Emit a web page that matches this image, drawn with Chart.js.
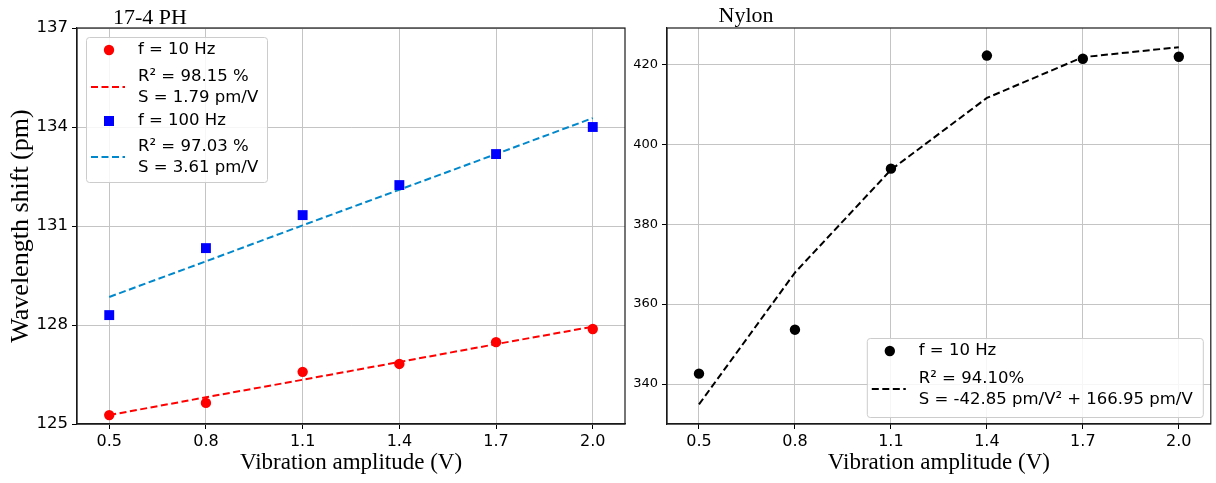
<!DOCTYPE html>
<html>
<head>
<meta charset="utf-8">
<script src="https://cdn.jsdelivr.net/npm/chart.js@4.4.1/dist/chart.umd.min.js"></script>
<style>
  body { margin: 0; background: #fff; }
  #left { position: absolute; left: 0; top: 0; width: 640px; height: 483px; }
  #right { position: absolute; left: 620px; top: 0; width: 596px; height: 483px; }
</style>
</head>
<body>
<div id="left"><canvas id="steel"></canvas></div>
<div id="right"><canvas id="nylon"></canvas></div>
<script>
// values
const amplitude = [0.5, 0.8, 1.1, 1.4, 1.7, 2.0];
const xTicks = [0.5, 0.8, 1.1, 1.4, 1.7, 2.0];

const steel10 = [125.27, 125.64, 126.58, 126.82, 127.48, 127.88];
const steel10Fit = [125.27, 125.81, 126.34, 126.88, 127.42, 127.95];
const steel100 = [128.30, 130.33, 131.33, 132.24, 133.18, 134.00];
const steel100Fit = [128.85, 129.93, 131.02, 132.10, 133.18, 134.27];
const steelTicks = [125, 128, 131, 134, 137];

const nylon10 = [342.6, 353.6, 393.9, 422.2, 421.4, 421.9];
const nylon10Fit = [334.9, 367.9, 393.6, 411.6, 421.8, 424.3];
const nylonTicks = [340, 360, 380, 400, 420];

const steelLabels = ['f = 10 Hz', ['R² = 98.15 %', 'S = 1.79 pm/V'], 'f = 100 Hz', ['R² = 97.03 %', 'S = 3.61 pm/V']];
const nylonLabels = ['f = 10 Hz', ['R² = 94.10%', 'S = -42.85 pm/V² + 166.95 pm/V']];

const RED = '#ff0000';
const BLUE = '#0000ff';
const FITBLUE = '#0088cc';
const GRID = '#c4c4c4';
const DASH = [7, 3.5];

const pts = ys => amplitude.map((x, i) => ({ x: x, y: ys[i] }));

function xAxis() {
  return {
    type: 'linear', min: 0.4, max: 2.1,
    afterBuildTicks: s => { s.ticks = xTicks.map(v => ({ value: v })); },
    afterFit: s => { s.height = 59; },
    ticks: { font: { family: 'DejaVu Sans', size: 16 }, color: '#000', padding: 3,
             maxRotation: 0, autoSkip: false, callback: v => Number(v).toFixed(1) },
    grid: { color: GRID, lineWidth: 1, tickColor: '#000', tickLength: 5 },
    border: { color: '#1a1a1a', width: 1.2 },
    title: { display: true, text: 'Vibration amplitude (V)', color: '#000',
             font: { family: 'Liberation Serif', size: 23 }, padding: { top: 0, bottom: 6 } }
  };
}

function drawLegend(ctx, area, spec, labels) {
  const bx = spec.right != null ? area.right - spec.right - spec.w : area.left + spec.left;
  const by = spec.bottom != null ? area.bottom - spec.bottom - spec.h : area.top + spec.top;
  ctx.save();
  ctx.beginPath();
  if (ctx.roundRect) ctx.roundRect(bx + 0.5, by + 0.5, spec.w, spec.h, 3);
  else ctx.rect(bx + 0.5, by + 0.5, spec.w, spec.h);
  ctx.fillStyle = 'rgba(255,255,255,0.85)';
  ctx.fill();
  ctx.strokeStyle = '#cccccc';
  ctx.lineWidth = 1;
  ctx.stroke();
  ctx.font = '16.5px "DejaVu Sans"';
  ctx.textBaseline = 'middle';
  spec.items.forEach((it, i) => {
    const cy = by + it.y;
    if (it.kind === 'circle') {
      ctx.beginPath();
      ctx.arc(bx + 23, cy, 5.2, 0, 2 * Math.PI);
      ctx.fillStyle = it.color;
      ctx.fill();
    } else if (it.kind === 'square') {
      ctx.fillStyle = it.color;
      ctx.fillRect(bx + 18, cy - 5, 10, 10);
    } else {
      ctx.beginPath();
      ctx.setLineDash(DASH);
      ctx.moveTo(bx + 5, cy);
      ctx.lineTo(bx + 39, cy);
      ctx.strokeStyle = it.color;
      ctx.lineWidth = 2;
      ctx.stroke();
      ctx.setLineDash([]);
    }
    ctx.fillStyle = '#000';
    const lines = [].concat(labels[i]);
    const n = lines.length;
    lines.forEach((t, k) => ctx.fillText(t, bx + 52, cy + (k - (n - 1) / 2) * 21));
  });
  ctx.restore();
}

// frame, title and legend drawn on top of the chart
function decor(title, tx, ty, legend, labels) {
  return {
    id: 'decor',
    afterDraw(chart) {
      const ctx = chart.ctx, a = chart.chartArea;
      ctx.save();
      ctx.strokeStyle = '#1a1a1a';
      ctx.lineWidth = 1.2;
      ctx.strokeRect(a.left, a.top, a.right - a.left, a.bottom - a.top);
      ctx.fillStyle = '#000';
      ctx.font = '22px "Liberation Serif"';
      ctx.textAlign = 'center';
      ctx.textBaseline = 'alphabetic';
      ctx.fillText(title, tx, ty);
      ctx.restore();
      drawLegend(ctx, a, legend, labels);
    }
  };
}

const common = {
  responsive: true, maintainAspectRatio: false, animation: false, devicePixelRatio: 1,
  plugins: { legend: { display: false }, tooltip: { enabled: false } }
};

new Chart(document.getElementById('steel'), {
  type: 'line',
  data: {
    datasets: [
      { label: 'f = 10 Hz', data: pts(steel10), showLine: false, pointStyle: 'circle',
        pointRadius: 5.2, backgroundColor: RED, borderColor: RED, pointBorderWidth: 0 },
      { label: 'f = 100 Hz', data: pts(steel100), showLine: false, pointStyle: 'rect',
        pointRadius: 7, backgroundColor: BLUE, borderColor: BLUE, pointBorderWidth: 0 },
      { label: '10 Hz fit', data: pts(steel10Fit), borderColor: RED, borderWidth: 2,
        borderDash: DASH, pointRadius: 0, tension: 0 },
      { label: '100 Hz fit', data: pts(steel100Fit), borderColor: FITBLUE, borderWidth: 2,
        borderDash: DASH, pointRadius: 0, tension: 0 }
    ]
  },
  options: Object.assign({}, common, {
    layout: { padding: { left: 0, right: 15, top: 28, bottom: 0 } },
    scales: {
      x: xAxis(),
      y: {
        min: 125, max: 137,
        afterBuildTicks: s => { s.ticks = steelTicks.map(v => ({ value: v })); },
        afterFit: s => { s.width = 77; },
        ticks: { font: { family: 'DejaVu Sans', size: 16.5 }, color: '#000', padding: 4 },
        grid: { color: GRID, lineWidth: 1, tickColor: '#000', tickLength: 5 },
        border: { color: '#1a1a1a', width: 1.2 },
        title: { display: true, text: 'Wavelength shift (pm)', color: '#000',
                 font: { family: 'Liberation Serif', size: 26 }, padding: { top: 6, bottom: 0 } }
      }
    }
  }),
  plugins: [decor('17-4 PH', 150, 23.5, {
    left: 9, top: 9, w: 181, h: 145,
    items: [
      { kind: 'circle', color: RED, y: 13 },
      { kind: 'dash', color: RED, y: 50 },
      { kind: 'square', color: BLUE, y: 84 },
      { kind: 'dash', color: FITBLUE, y: 120 }
    ]
  }, steelLabels)]
});

new Chart(document.getElementById('nylon'), {
  type: 'line',
  data: {
    datasets: [
      { label: 'f = 10 Hz', data: pts(nylon10), showLine: false, pointStyle: 'circle',
        pointRadius: 5.2, backgroundColor: '#000', borderColor: '#000', pointBorderWidth: 0 },
      { label: 'fit', data: pts(nylon10Fit), borderColor: '#000', borderWidth: 2,
        borderDash: DASH, pointRadius: 0, tension: 0 }
    ]
  },
  options: Object.assign({}, common, {
    layout: { padding: { left: 0, right: 4, top: 28, bottom: 0 } },
    scales: {
      x: xAxis(),
      y: {
        min: 330, max: 429.1,
        afterBuildTicks: s => { s.ticks = nylonTicks.map(v => ({ value: v })); },
        afterFit: s => { s.width = 47; },
        ticks: { font: { family: 'DejaVu Sans', size: 13 }, color: '#000', padding: 4 },
        grid: { color: GRID, lineWidth: 1, tickColor: '#000', tickLength: 5 },
        border: { color: '#1a1a1a', width: 1.2 }
      }
    }
  }),
  plugins: [decor('Nylon', 126, 21.5, {
    right: 8, bottom: 7, w: 336, h: 79,
    items: [
      { kind: 'circle', color: '#000', y: 13 },
      { kind: 'dash', color: '#000', y: 51 }
    ]
  }, nylonLabels)]
});
</script>
</body>
</html>
